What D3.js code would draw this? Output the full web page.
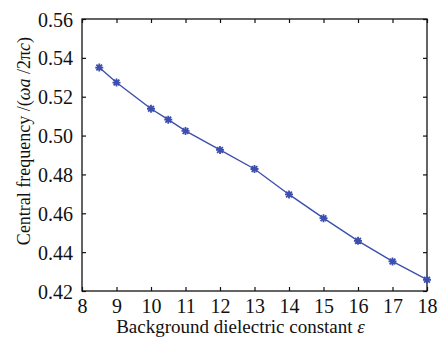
<!DOCTYPE html>
<html>
<head>
<meta charset="utf-8">
<script src="https://cdn.jsdelivr.net/npm/d3@7"></script>
<style>
  body { margin: 0; background: #fff; }
</style>
</head>
<body>
<div id="chart"></div>
<script>
// values
var epsilon = [8.5, 9, 10, 10.5, 11, 12, 13, 14, 15, 16, 17, 18];
var freq = [0.535, 0.5273, 0.5138, 0.5082, 0.5024, 0.4926, 0.4828, 0.4697, 0.4575, 0.4458, 0.4352, 0.4258];
var xTicks = [8, 9, 10, 11, 12, 13, 14, 15, 16, 17, 18];
var yTicks = [0.42, 0.44, 0.46, 0.48, 0.50, 0.52, 0.54, 0.56];

var serif = "'Liberation Serif'";

var margin = {top: 19, right: 20, bottom: 47, left: 82};
var width = 447 - margin.left - margin.right;
var height = 338 - margin.top - margin.bottom;

var data = epsilon.map(function(e, i) { return {x: e, y: freq[i]}; });

var xScale = d3.scaleLinear().domain([8, 18]).range([0, width]);
var yScale = d3.scaleLinear().domain([0.42, 0.56]).range([height, 0]);

var svg = d3.select("#chart")
    .append("svg")
    .attr("width", 447)
    .attr("height", 338)
    .append("g")
    .attr("transform", "translate(" + margin.left + "," + margin.top + ")");

// frame
svg.append("rect")
    .attr("width", width)
    .attr("height", height)
    .attr("fill", "none")
    .attr("stroke", "#111")
    .attr("stroke-width", 1.3);

var xAxis = d3.axisBottom(xScale).tickValues(xTicks).tickSizeInner(-4).tickSizeOuter(0).tickPadding(8);
var yAxis = d3.axisLeft(yScale).tickValues(yTicks).tickSizeInner(-4).tickSizeOuter(0).tickPadding(9)
    .tickFormat(d3.format(".2f"));

var gx = svg.append("g")
    .attr("transform", "translate(0," + height + ")")
    .call(xAxis);
var gy = svg.append("g").call(yAxis);

// mirrored ticks on top and right
svg.append("g")
    .call(d3.axisTop(xScale).tickValues(xTicks).tickSizeInner(-4).tickSizeOuter(0).tickFormat(""));
svg.append("g")
    .attr("transform", "translate(" + width + ",0)")
    .call(d3.axisRight(yScale).tickValues(yTicks).tickSizeInner(-4).tickSizeOuter(0).tickFormat(""));

svg.selectAll(".domain").remove();
svg.selectAll(".tick line").attr("stroke", "#111").attr("stroke-width", 1.2);
gx.selectAll("text").style("font-size", "20px").style("font-family", serif).attr("fill", "#111");
gy.selectAll("text").style("font-size", "20px").style("font-family", serif).attr("fill", "#111").attr("dy", "0.35em");

// line
var line = d3.line()
    .x(function(d) { return xScale(d.x); })
    .y(function(d) { return yScale(d.y); });

svg.append("path")
    .datum(data)
    .attr("d", line)
    .attr("fill", "none")
    .attr("stroke", "#3d4fae")
    .attr("stroke-width", 1.4);

// asterisk markers
var r = 4;
svg.selectAll(".mark")
    .data(data)
    .enter().append("path")
    .attr("class", "mark")
    .attr("transform", function(d) { return "translate(" + xScale(d.x) + "," + yScale(d.y) + ")"; })
    .attr("d", "M" + (-r) + ",0H" + r + "M0," + (-r) + "V" + r +
        "M" + (-r * 0.72) + "," + (-r * 0.72) + "L" + (r * 0.72) + "," + (r * 0.72) +
        "M" + (-r * 0.72) + "," + (r * 0.72) + "L" + (r * 0.72) + "," + (-r * 0.72))
    .attr("stroke", "#3d4fae")
    .attr("stroke-width", 1.8)
    .attr("fill", "none");

// axis titles
svg.append("text")
    .attr("x", width / 2 - 14)
    .attr("y", height + 42)
    .attr("text-anchor", "middle")
    .style("font-size", "19px")
    .style("font-family", serif)
    .attr("fill", "#111")
    .html("Background dielectric constant <tspan font-style='italic'>ε</tspan>");

svg.append("text")
    .attr("transform", "rotate(-90)")
    .attr("x", -height / 2 + 14)
    .attr("y", -52)
    .attr("text-anchor", "middle")
    .style("font-size", "18px")
    .style("font-family", serif)
    .attr("fill", "#111")
    .html("Central frequency /(<tspan font-style='italic'>ωa</tspan> /2π<tspan font-style='italic'>c</tspan>)");
</script>
</body>
</html>
